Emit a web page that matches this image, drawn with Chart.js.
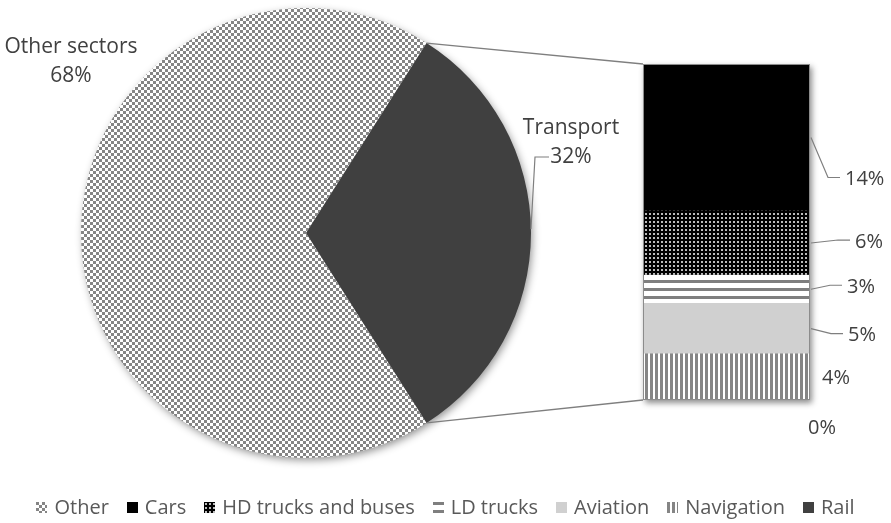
<!DOCTYPE html>
<html><head><meta charset="utf-8">
<script src="https://cdn.jsdelivr.net/npm/chart.js@4.4.1/dist/chart.umd.min.js"></script>
<style>
html,body{margin:0;padding:0;background:#fff;}
#wrap{position:relative;width:891px;height:523px;overflow:hidden;font-family:"Open Sans",sans-serif;}
#wrap canvas.layer{position:absolute;left:0;top:0;}
#legend{position:absolute;left:0;top:494px;width:891px;height:26px;display:flex;justify-content:center;align-items:center;color:#595959;font-size:20px;line-height:26px;}
.item{display:flex;align-items:center;margin:0 9px;white-space:nowrap;}
.item canvas{margin-right:7px;}
</style></head><body>
<div id="wrap">
<canvas id="pie" class="layer" width="891" height="523"></canvas>
<canvas id="bar" class="layer" width="891" height="523"></canvas>
<div id="legend"></div>
</div>
<script>
// ---------------- data ----------------
const pieLabels = ['Other sectors', 'Transport'];
const pieValues = [68, 32];
const transportModes = ['Rail', 'Navigation', 'Aviation', 'LD trucks', 'HD trucks and buses', 'Cars'];
const transportValues = [0.0, 4.4, 4.8, 2.7, 6.1, 14.0];
const legendLabels = ['Other', 'Cars', 'HD trucks and buses', 'LD trucks', 'Aviation', 'Navigation', 'Rail'];

// ---------------- styles ----------------
function makeTile(w, h, draw) { const c = document.createElement('canvas'); c.width = w; c.height = h; draw(c.getContext('2d'), w, h); return c; }
const tiles = {
  checker: makeTile(6, 6, g => { g.fillStyle = '#ffffff'; g.fillRect(0, 0, 6, 6); g.fillStyle = '#858585'; g.fillRect(0, 0, 3, 3); g.fillRect(3, 3, 3, 3); }),
  dots: makeTile(4, 4, g => { g.fillStyle = '#000000'; g.fillRect(0, 0, 4, 4); g.fillStyle = '#bcbcbc'; g.fillRect(1, 1, 2, 2); }),
  hstripe: makeTile(8, 8, g => { g.fillStyle = '#ffffff'; g.fillRect(0, 0, 8, 8); g.fillStyle = '#7f7f7f'; g.fillRect(0, 0, 8, 3); }),
  vstripe: makeTile(5, 5, g => { g.fillStyle = '#ffffff'; g.fillRect(0, 0, 5, 5); g.fillStyle = '#858585'; g.fillRect(0, 0, 3, 5); })
};
function fillFor(ctx, key) {
  switch (key) {
    case 'Other': case 'Other sectors': return ctx.createPattern(tiles.checker, 'repeat');
    case 'Cars': return '#000000';
    case 'HD trucks and buses': return ctx.createPattern(tiles.dots, 'repeat');
    case 'LD trucks': return ctx.createPattern(tiles.hstripe, 'repeat');
    case 'Aviation': return '#d0d0d0';
    case 'Navigation': return ctx.createPattern(tiles.vstripe, 'repeat');
    case 'Rail': case 'Transport': return '#404040';
  }
  return '#888';
}
const textColor = '#404040';
const labelFont = '20px "Open Sans", sans-serif';
const barLabelStyle = {
  'Cars': { dx: 35, dy: 42, leader: true },
  'HD trucks and buses': { dx: 45, dy: -1, leader: true },
  'LD trucks': { dx: 37, dy: -2, leader: true },
  'Aviation': { dx: 38, dy: 7, leader: true },
  'Navigation': { dx: 12, dy: 1, leader: false },
  'Rail': { dx: -2, dy: 28, leader: false }
};

// ---------------- pie ----------------
const pieCanvas = document.getElementById('pie');
const pctx = pieCanvas.getContext('2d');
const transportShare = pieValues[1] / (pieValues[0] + pieValues[1]);

const pieShadow = {
  id: 'pieShadow',
  beforeDatasetsDraw(chart) {
    const a = chart.getDatasetMeta(0).data[0]; if (!a) return;
    const ctx = chart.ctx; ctx.save();
    ctx.shadowColor = 'rgba(0,0,0,0.45)'; ctx.shadowBlur = 9; ctx.shadowOffsetX = 2; ctx.shadowOffsetY = 3;
    ctx.fillStyle = '#ffffff'; ctx.beginPath(); ctx.arc(a.x, a.y, a.outerRadius - 1, 0, Math.PI * 2); ctx.fill();
    ctx.restore();
  }
};
const pieText = {
  id: 'pieText',
  afterDatasetsDraw(chart) {
    const a = chart.getDatasetMeta(0).data[0]; if (!a) return;
    const cx = a.x, cy = a.y, r = a.outerRadius;
    const ctx = chart.ctx; ctx.save();
    ctx.fillStyle = textColor; ctx.font = '21px "Open Sans", sans-serif'; ctx.textAlign = 'center'; ctx.textBaseline = 'middle';
    ctx.fillText(pieLabels[0], cx - 235, cy - 186);
    ctx.fillText(Math.round(pieValues[0]) + '%', cx - 235, cy - 157);
    ctx.fillText(pieLabels[1], cx + 265, cy - 105);
    ctx.fillText(Math.round(pieValues[1]) + '%', cx + 265, cy - 76);
    ctx.strokeStyle = '#7f7f7f'; ctx.lineWidth = 1.2; ctx.beginPath();
    ctx.moveTo(cx + 243, cy - 76); ctx.lineTo(cx + 229, cy - 76); ctx.lineTo(cx + Math.sqrt(r * r - 16), cy - 4); ctx.stroke();
    ctx.restore();
  }
};
const pieChart = new Chart(pieCanvas, {
  type: 'pie',
  data: { labels: pieLabels, datasets: [{ data: pieValues, backgroundColor: pieLabels.map(l => fillFor(pctx, l)), borderWidth: 0 }] },
  options: {
    responsive: false, animation: false, events: [],
    rotation: 90 + transportShare * 180,
    layout: { padding: { left: 81, right: 360, top: 8, bottom: 65 } },
    plugins: { legend: { display: false }, tooltip: { enabled: false } }
  },
  plugins: [pieShadow, pieText]
});

// ---------------- stacked bar ----------------
const barCanvas = document.getElementById('bar');
const bctx = barCanvas.getContext('2d');
const transportTotal = transportValues.reduce((s, v) => s + v, 0);

function barBox(chart) {
  const n = chart.data.datasets.length;
  const first = chart.getDatasetMeta(0).data[0], last = chart.getDatasetMeta(n - 1).data[0];
  return { left: first.x - first.width / 2, right: first.x + first.width / 2, top: last.y, bottom: first.base };
}
const barDecor = {
  id: 'barDecor',
  beforeDatasetsDraw(chart) {
    const b = barBox(chart), ctx = chart.ctx; ctx.save();
    ctx.shadowColor = 'rgba(0,0,0,0.45)'; ctx.shadowBlur = 6; ctx.shadowOffsetX = 2; ctx.shadowOffsetY = 3;
    ctx.fillStyle = '#ffffff'; ctx.fillRect(b.left, b.top, b.right - b.left, b.bottom - b.top);
    ctx.restore();
  },
  afterDatasetsDraw(chart) {
    const b = barBox(chart), ctx = chart.ctx; ctx.save();
    ctx.strokeStyle = '#8c8c8c'; ctx.lineWidth = 1; ctx.strokeRect(b.left + 0.5, b.top + 0.5, b.right - b.left - 1, b.bottom - b.top - 1);
    // connectors from pie slice to bar
    const arc = pieChart.getDatasetMeta(0).data[1];
    if (arc) {
      const r = arc.outerRadius;
      ctx.strokeStyle = '#7f7f7f'; ctx.lineWidth = 1.3; ctx.beginPath();
      ctx.moveTo(arc.x + r * Math.cos(arc.startAngle), arc.y + r * Math.sin(arc.startAngle)); ctx.lineTo(b.left, b.top);
      ctx.moveTo(arc.x + r * Math.cos(arc.endAngle), arc.y + r * Math.sin(arc.endAngle)); ctx.lineTo(b.left, b.bottom);
      ctx.stroke();
    }
    // data labels
    ctx.font = labelFont; ctx.fillStyle = textColor; ctx.textAlign = 'left'; ctx.textBaseline = 'middle';
    chart.data.datasets.forEach((ds, i) => {
      const el = chart.getDatasetMeta(i).data[0];
      const mid = (el.y + el.base) / 2;
      const st = barLabelStyle[ds.label];
      const tx = b.right + st.dx, ty = mid + st.dy;
      ctx.fillText(Math.round(ds.data[0]) + '%', tx, ty);
      if (st.leader) {
        ctx.strokeStyle = '#7f7f7f'; ctx.lineWidth = 1.2; ctx.beginPath();
        ctx.moveTo(b.right + 1, mid); ctx.lineTo(tx - 17, ty - 2); ctx.lineTo(tx - 5, ty - 2); ctx.stroke();
      }
    });
    ctx.restore();
  }
};
const barChart = new Chart(barCanvas, {
  type: 'bar',
  data: {
    labels: ['Transport'],
    datasets: transportModes.map((m, i) => ({ label: m, data: [transportValues[i]], backgroundColor: fillFor(bctx, m), borderWidth: 0, barPercentage: 1, categoryPercentage: 1 }))
  },
  options: {
    responsive: false, animation: false, events: [],
    layout: { padding: { left: 643, right: 81, top: 64, bottom: 123 } },
    scales: { x: { stacked: true, display: false }, y: { stacked: true, display: false, min: 0, max: transportTotal } },
    plugins: { legend: { display: false }, tooltip: { enabled: false } }
  },
  plugins: [barDecor]
});

// ---------------- legend ----------------
const legend = document.getElementById('legend');
legendLabels.forEach(l => {
  const item = document.createElement('div'); item.className = 'item';
  const sw = document.createElement('canvas'); sw.width = 11; sw.height = 11;
  const g = sw.getContext('2d'); g.fillStyle = fillFor(g, l); g.fillRect(0, 0, 11, 11);
  const t = document.createElement('span'); t.textContent = l;
  item.appendChild(sw); item.appendChild(t); legend.appendChild(item);
});
</script>
</body></html>
